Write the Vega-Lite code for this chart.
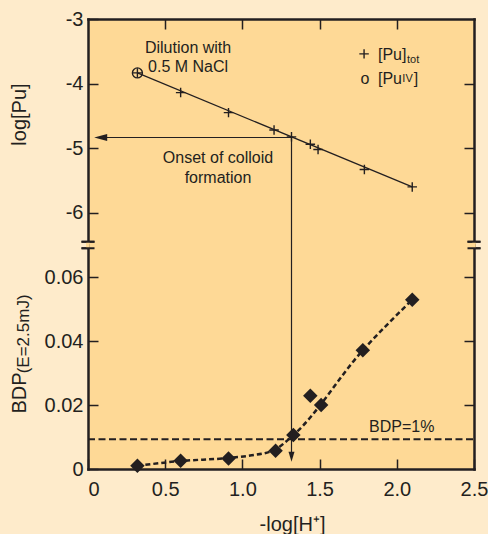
{
  "$schema": "https://vega.github.io/schema/vega-lite/v6.json",
  "background": "#FEEBCB",
  "padding": {"left": 9, "top": 9, "right": 0, "bottom": 0},
  "autosize": {"type": "pad"},
  "spacing": 0,
  "bounds": "flush",
  "config": {
    "view": {"fill": "#FED996", "stroke": null},
    "axis": {
      "labelFont": "Liberation Sans", "titleFont": "Liberation Sans",
      "labelFontSize": 20, "titleFontSize": 20,
      "labelColor": "#231F20", "titleColor": "#231F20", "titleFontWeight": "normal",
      "domainColor": "#231F20", "domainWidth": 2.5, "domainCap": "square",
      "tickColor": "#231F20", "tickWidth": 1.5, "tickSize": -10,
      "grid": false, "zindex": 0
    },
    "text": {"font": "Liberation Sans", "fontSize": 16, "color": "#231F20"}
  },
  "datasets": {
    "topFit": [{"x": 0.32, "y": -3.835}, {"x": 2.1, "y": -5.6}],
    "topPts": [
      {"x": 0.32, "y": -3.835}, {"x": 0.6, "y": -4.14}, {"x": 0.91, "y": -4.45},
      {"x": 1.205, "y": -4.72}, {"x": 1.318, "y": -4.825}, {"x": 1.44, "y": -4.94},
      {"x": 1.49, "y": -5.02}, {"x": 1.79, "y": -5.33}, {"x": 2.1, "y": -5.6}
    ],
    "pu4": [{"x": 0.32, "y": -3.835}],
    "hArrow": [{"x": 1.318, "x2": 0.06, "y": -4.835}],
    "hHead": [{"x": 0.04, "y": -4.835}],
    "vTop": [{"x": 1.318, "y": -4.835, "y2": -6.5}],
    "breakTop": [{"x": 0, "y": -6.5}, {"x": 2.5, "y": -6.5}],
    "legendCross": [{"x": 1.788, "y": -3.54}],
    "topTextC": [
      {"x": 0.648, "y": -3.526, "t": "Dilution with"},
      {"x": 0.648, "y": -3.815, "t": "0.5 M NaCl"},
      {"x": 0.842, "y": -5.227, "t": "Onset of colloid"},
      {"x": 0.842, "y": -5.536, "t": "formation"},
      {"x": 1.794, "y": -4.01, "t": "o"}
    ],
    "topTextL": [
      {"x": 1.878, "y": -3.634, "t": "[Pu]"},
      {"x": 1.878, "y": -4.01, "t": "[Pu"},
      {"x": 2.11, "y": -4.01, "t": "]"}
    ],
    "topTextS": [
      {"x": 2.066, "y": -3.685, "t": "tot"},
      {"x": 2.036, "y": -3.974, "t": "IV"}
    ],
    "botFit": [
      {"x": 0.32, "y": 0.001}, {"x": 0.6, "y": 0.0025}, {"x": 0.9, "y": 0.0034},
      {"x": 1.05, "y": 0.0042}, {"x": 1.2, "y": 0.0058}, {"x": 1.33, "y": 0.0106},
      {"x": 1.78, "y": 0.0371}, {"x": 2.1, "y": 0.0529}
    ],
    "botPts": [
      {"x": 0.32, "y": 0.001}, {"x": 0.6, "y": 0.0026}, {"x": 0.91, "y": 0.0033},
      {"x": 1.215, "y": 0.0057}, {"x": 1.33, "y": 0.0106}, {"x": 1.44, "y": 0.0229},
      {"x": 1.51, "y": 0.02}, {"x": 1.78, "y": 0.0371}, {"x": 2.1, "y": 0.0529}
    ],
    "bdp1": [{"x": 0, "x2": 2.5, "y": 0.0093}],
    "vBot": [{"x": 1.318, "y": 0.07, "y2": 0.004}],
    "vHead": [{"x": 1.318, "y": 0.0023}],
    "breakBot": [{"x": 0, "y": 0.07}, {"x": 2.5, "y": 0.07}],
    "botTextL": [{"x": 1.82, "y": 0.01164, "t": "BDP=1%"}],
    "sub": [{"x": -0.382, "y": 0.0299, "t": "(E=2.5mJ)"}]
  },
  "vconcat": [
    {
      "width": 386,
      "height": 226,
      "resolve": {"axis": {"x": "independent", "y": "independent"}},
      "encoding": {
        "x": {"field": "x", "type": "quantitative", "scale": {"domain": [0, 2.5], "nice": false, "zero": false}, "axis": null},
        "y": {"field": "y", "type": "quantitative", "scale": {"domain": [-6.5, -3], "nice": false, "zero": false}, "axis": null}
      },
      "layer": [
        {
          "data": {"name": "topFit"},
          "mark": {"type": "line", "color": "#231F20", "strokeWidth": 1.2},
          "encoding": {
            "x": {"field": "x", "type": "quantitative", "scale": {"domain": [0, 2.5], "nice": false, "zero": false},
              "axis": {"orient": "top", "values": [0.5, 1, 1.5, 2], "labels": false, "title": null}},
            "y": {"field": "y", "type": "quantitative", "scale": {"domain": [-6.5, -3], "nice": false, "zero": false},
              "axis": {"orient": "left", "values": [-3, -4, -5, -6], "labelExpr": "'' + datum.value", "labelPadding": 15,
                "title": "log[Pu]", "titleX": -63, "titleY": 95, "titleBaseline": "alphabetic", "titleAngle": 270}}
          }
        },
        {
          "data": {"name": "topPts"},
          "mark": {"type": "point", "shape": "M-1,0L1,0M0,-1L0,1", "size": 90, "filled": false, "color": "#231F20", "strokeWidth": 1.4, "opacity": 1},
          "encoding": {
            "y": {"field": "y", "type": "quantitative", "scale": {"domain": [-6.5, -3], "nice": false, "zero": false},
              "axis": {"orient": "right", "values": [-4, -5, -6], "labels": false, "title": null}}
          }
        },
        {
          "data": {"name": "pu4"},
          "mark": {"type": "point", "shape": "circle", "size": 100, "filled": false, "color": "#231F20", "strokeWidth": 1.4, "opacity": 1}
        },
        {
          "data": {"name": "legendCross"},
          "mark": {"type": "point", "shape": "M-1,0L1,0M0,-1L0,1", "size": 90, "filled": false, "color": "#231F20", "strokeWidth": 1.4, "opacity": 1}
        },
        {
          "data": {"name": "hArrow"},
          "mark": {"type": "rule", "color": "#231F20", "strokeWidth": 1.2},
          "encoding": {"x2": {"field": "x2"}}
        },
        {
          "data": {"name": "hHead"},
          "mark": {"type": "point", "shape": "M0,0L2,-0.54L2,0.54Z", "size": 169, "filled": true, "color": "#231F20", "opacity": 1}
        },
        {
          "data": {"name": "vTop"},
          "mark": {"type": "rule", "color": "#231F20", "strokeWidth": 1.2},
          "encoding": {"y2": {"field": "y2"}}
        },
        {
          "data": {"name": "topTextC"},
          "mark": {"type": "text", "align": "center", "baseline": "alphabetic", "fontSize": 16},
          "encoding": {"text": {"field": "t"}}
        },
        {
          "data": {"name": "topTextL"},
          "mark": {"type": "text", "align": "left", "baseline": "alphabetic", "fontSize": 16},
          "encoding": {"text": {"field": "t"}}
        },
        {
          "data": {"name": "topTextS"},
          "mark": {"type": "text", "align": "left", "baseline": "alphabetic", "fontSize": 11},
          "encoding": {"text": {"field": "t"}}
        },
        {
          "data": {"name": "breakTop"},
          "mark": {"type": "point", "shape": "M-0.5,-1L0.5,-1L0.5,1L-0.5,1Z", "size": 49, "filled": true, "color": "#FED996", "opacity": 1}
        },
        {
          "data": {"name": "breakTop"},
          "mark": {"type": "point", "shape": "M-1,-0.5L1,-0.5M-1,0.5L1,0.5", "size": 169, "filled": false, "color": "#231F20", "strokeWidth": 2, "opacity": 1}
        }
      ]
    },
    {
      "width": 386,
      "height": 224,
      "resolve": {"axis": {"x": "independent", "y": "independent"}},
      "encoding": {
        "x": {"field": "x", "type": "quantitative", "scale": {"domain": [0, 2.5], "nice": false, "zero": false}, "axis": null},
        "y": {"field": "y", "type": "quantitative", "scale": {"domain": [0, 0.07], "nice": false}, "axis": null}
      },
      "layer": [
        {
          "data": {"name": "bdp1"},
          "mark": {"type": "rule", "color": "#231F20", "strokeWidth": 2, "strokeDash": [7, 3.5]},
          "encoding": {"x2": {"field": "x2"}}
        },
        {
          "data": {"name": "botFit"},
          "mark": {"type": "line", "color": "#231F20", "strokeWidth": 2.5, "strokeDash": [5, 3], "interpolate": "monotone"},
          "encoding": {
            "x": {"field": "x", "type": "quantitative", "scale": {"domain": [0, 2.5], "nice": false, "zero": false},
              "axis": {"orient": "bottom", "values": [0, 0.5, 1, 1.5, 2, 2.5], "labelFlush": false,
                "labelAlign": {"condition": {"test": "datum.value == 0", "value": "left"}, "value": "center"},
                "labelExpr": "datum.value == 0 ? '0' : format(datum.value, '.1f')", "labelPadding": 20,
                "title": "-log[H⁺]", "titleX": 204, "titleY": 61, "titleBaseline": "alphabetic"}},
            "y": {"field": "y", "type": "quantitative", "scale": {"domain": [0, 0.07], "nice": false},
              "axis": {"orient": "left", "values": [0, 0.02, 0.04, 0.06],
                "labelExpr": "datum.value == 0 ? '0' : format(datum.value, '.2f')", "labelPadding": 15,
                "title": "BDP", "titleX": -63, "titleY": 168, "titleAlign": "left", "titleAngle": 270, "titleBaseline": "alphabetic"}}
          }
        },
        {
          "data": {"name": "botPts"},
          "mark": {"type": "point", "shape": "diamond", "size": 210, "filled": true, "color": "#231F20", "opacity": 1},
          "encoding": {
            "y": {"field": "y", "type": "quantitative", "scale": {"domain": [0, 0.07], "nice": false},
              "axis": {"orient": "right", "values": [0.02, 0.04, 0.06], "labels": false, "title": null}}
          }
        },
        {
          "data": {"name": "vBot"},
          "mark": {"type": "rule", "color": "#231F20", "strokeWidth": 1.2},
          "encoding": {"y2": {"field": "y2"}}
        },
        {
          "data": {"name": "vHead"},
          "mark": {"type": "point", "shape": "M0,0L-0.6,-2L0.6,-2Z", "size": 100, "filled": true, "color": "#231F20", "opacity": 1}
        },
        {
          "data": {"name": "botTextL"},
          "mark": {"type": "text", "align": "left", "baseline": "alphabetic", "fontSize": 16},
          "encoding": {"text": {"field": "t"}}
        },
        {
          "data": {"name": "sub"},
          "mark": {"type": "text", "align": "left", "baseline": "alphabetic", "fontSize": 17, "angle": 270},
          "encoding": {"text": {"field": "t"}}
        },
        {
          "data": {"name": "breakBot"},
          "mark": {"type": "point", "shape": "M-0.5,-1L0.5,-1L0.5,1L-0.5,1Z", "size": 49, "filled": true, "color": "#FED996", "opacity": 1}
        },
        {
          "data": {"name": "breakBot"},
          "mark": {"type": "point", "shape": "M-1,-0.5L1,-0.5M-1,0.5L1,0.5", "size": 169, "filled": false, "color": "#231F20", "strokeWidth": 2, "opacity": 1}
        }
      ]
    }
  ]
}
